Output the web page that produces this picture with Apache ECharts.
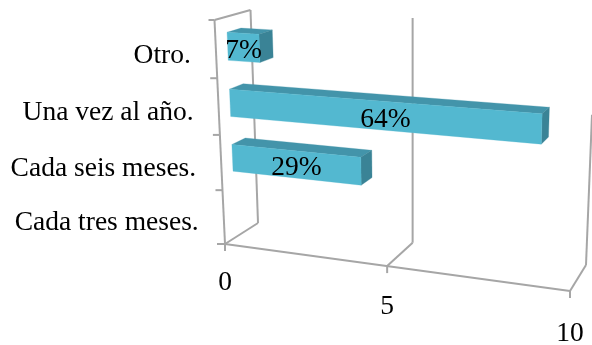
<!DOCTYPE html>
<html><head><meta charset="utf-8">
<style>html,body{margin:0;padding:0;background:#fff}#c{width:592px;height:345px}</style>
<script src="https://cdn.jsdelivr.net/npm/echarts@6/dist/echarts.min.js"></script>
</head><body><div id="c"></div>
<script>
const categories = ["Cada tres meses.", "Cada seis meses.", "Una vez al año.", "Otro."];
const values = [0, 4, 9, 1];
const percentLabels = ["", "29%", "64%", "7%"];
const xTicks = [0, 5, 10];

const G = {left: 100, top: 50, width: 400, height: 200};
const AX = '#A6A6A6', FRONT = '#53B8D0', TOP = '#4394AA', SIDE = '#3A8396';
const FONT = '27.5px "Liberation Serif"';
const depthFront = 0.33, depthBack = 0.72, barFrac = 0.49, barShift = 0.8;

function homography(p0, p1, p2, p3) {
  const dx1 = p1[0]-p2[0], dx2 = p3[0]-p2[0], sx = p0[0]-p1[0]+p2[0]-p3[0];
  const dy1 = p1[1]-p2[1], dy2 = p3[1]-p2[1], sy = p0[1]-p1[1]+p2[1]-p3[1];
  const den = dx1*dy2-dx2*dy1;
  const g = (sx*dy2-dx2*sy)/den, h = (dx1*sy-sx*dy1)/den;
  const a = p1[0]-p0[0]+g*p1[0], b = p3[0]-p0[0]+h*p3[0];
  const d = p1[1]-p0[1]+g*p1[1], e = p3[1]-p0[1]+h*p3[1];
  return (u, v) => { const w = g*u+h*v+1; return [(a*u+b*v+p0[0])/w, (d*u+e*v+p0[1])/w]; };
}
// perspective planes of the 3-D box (view definition)
const frontPlane = homography([225,244],[570,291],[579,39.5],[214.5,20]);
const backPlane  = homography([258,223],[586,265],[595.5,27],[250.5,10]);
function project(px, py, depth) {
  const u = (px-G.left)/G.width, v = (G.top+G.height-py)/G.height;
  const f = frontPlane(u,v), b = backPlane(u,v);
  return [f[0]+(b[0]-f[0])*depth, f[1]+(b[1]-f[1])*depth];
}
const line = (a,b) => ({type:'line', shape:{x1:a[0],y1:a[1],x2:b[0],y2:b[1]}, style:{stroke:AX,lineWidth:2}});
const poly = (pts,fill) => ({type:'polygon', shape:{points:pts}, style:{fill:fill,stroke:fill,lineWidth:0.3}});
const text = (s,x,y,align) => ({type:'text', style:{text:s,x:x,y:y,align:align,verticalAlign:'middle',fill:'#000',font:FONT}});

function renderX(params, api) {
  const c = api.coord([api.value(0), 0]);
  const x = c[0], yB = G.top+G.height, yT = G.top;
  const f = project(x,yB,0), b = project(x,yB,1);
  let t = project(x,yT,1);
  if (t[0] > 592) { const s = (592-b[0])/(t[0]-b[0]); t = [592, b[1]+(t[1]-b[1])*s]; }
  const share = (x-G.left)/G.width;
  const ch = [line(f,b), line(b,t), line(f,[f[0],f[1]+7]),
              text(String(api.value(0)), f[0], f[1]+39+share*4, 'center')];
  if (params.dataIndex === 0) {
    const end = project(G.left+G.width,yB,0), ft = project(x,yT,0);
    ch.push(line(f,end), line(f,ft), line(ft,t));
    ch.push(line(ft,[ft[0]-6,ft[1]]), line(f,[f[0]-8,f[1]]));
  }
  return {type:'group', children:ch};
}
function renderBar(params, api) {
  const cat = api.value(0), val = api.value(1);
  const band = api.size([0,1])[1];
  const c0 = api.coord([0,cat]), c1 = api.coord([val,cat]);
  const yT = c0[1]+barShift-band*barFrac/2, yB = c0[1]+barShift+band*barFrac/2;
  const ft = project(c0[0],yT,depthFront), fb = project(c0[0],yB,depthFront);
  const rt = project(c1[0],yT,depthFront), rb = project(c1[0],yB,depthFront);
  const bt = project(c0[0],yT,depthBack), brt = project(c1[0],yT,depthBack), brb = project(c1[0],yB,depthBack);
  const ch = [];
  if (val > 0) {
    ch.push(poly([ft,rt,brt,bt],TOP), poly([rt,rb,brb,brt],SIDE), poly([ft,rt,rb,fb],FRONT));
    const m = [(ft[0]+rb[0])/2,(ft[1]+rb[1])/2];
    ch.push(text(percentLabels[cat], m[0], m[1]+3, 'center'));
  }
  const lab = project(c0[0],c0[1],0);
  const tick = project(c0[0],c0[1]+band/2,0);
  if (cat > 0) ch.push(line(tick,[tick[0]-7,tick[1]]));
  ch.push(text(categories[cat], lab[0]-25, lab[1]+6, 'right'));
  return {type:'group', children:ch};
}
const chart = echarts.init(document.getElementById('c'), null, {renderer:'canvas'});
chart.setOption({
  animation:false,
  backgroundColor:'#fff',
  grid:G,
  xAxis:{type:'value',min:0,max:10,interval:5,show:false},
  yAxis:{type:'category',data:categories,show:false},
  series:[
    {type:'custom',coordinateSystem:'cartesian2d',clip:false,silent:true,z:1,renderItem:renderX,
     data:xTicks.map(t=>[t]),encode:{x:0}},
    {type:'custom',coordinateSystem:'cartesian2d',clip:false,silent:true,z:2,renderItem:renderBar,
     data:values.map((v,i)=>[i,v]),encode:{y:0,x:1}}
  ]
});
</script></body></html>
